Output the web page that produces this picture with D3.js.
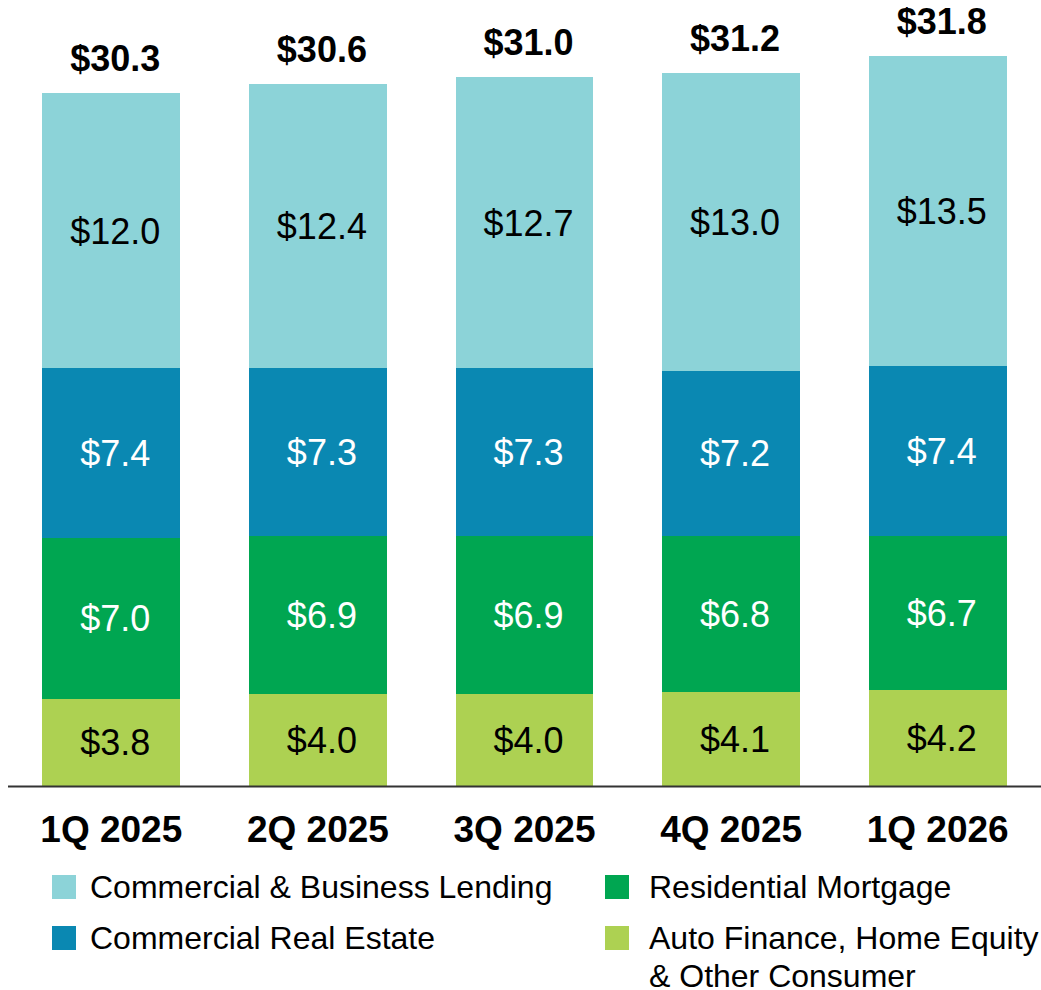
<!DOCTYPE html>
<html lang="en">
<head>
<meta charset="utf-8">
<title>Loans by Category</title>
<script src="https://cdn.jsdelivr.net/npm/d3@7"></script>
<style>
  body { margin: 0; background: #fff; }
  svg { font-family: "Liberation Sans", Arial, Helvetica, sans-serif; display: block; }
  .bar { shape-rendering: crispEdges; }
  .value { font-size: 36px; }
  .total { font-size: 36px; font-weight: bold; fill: #000; }
  .axis text { font-size: 37px; font-weight: bold; fill: #000; }
  .legend text { font-size: 32px; fill: #000; }
</style>
</head>
<body>
<div id="chart"></div>
<script>

// data
const quarters = ["1Q 2025", "2Q 2025", "3Q 2025", "4Q 2025", "1Q 2026"];
const autoOther   = [3.8, 4.0, 4.0, 4.1, 4.2];
const residential = [7.0, 6.9, 6.9, 6.8, 6.7];
const commRE      = [7.4, 7.3, 7.3, 7.2, 7.4];
const commBiz     = [12.0, 12.4, 12.7, 13.0, 13.5];
const totals      = [30.3, 30.6, 31.0, 31.2, 31.8];

const seriesKeys = ["auto", "res", "cre", "cbl"];

const WIDTH = 1041, HEIGHT = 990;
const colors = { auto: "#add152", res: "#00a651", cre: "#0a88b2", cbl: "#8cd3d8" };
const textColors = { auto: "#000", res: "#fff", cre: "#fff", cbl: "#000" };

const rows = quarters.map((q, i) => ({
  q: q, auto: autoOther[i], res: residential[i], cre: commRE[i], cbl: commBiz[i], total: totals[i]
}));

const svg = d3.select("#chart").append("svg")
  .attr("width", WIDTH)
  .attr("height", HEIGHT)
  .attr("viewBox", [0, 0, WIDTH, HEIGHT]);

const x = d3.scaleBand()
  .domain(quarters)
  .range([8, 1041])
  .paddingInner(0.333)
  .paddingOuter(0.1665);

const y = d3.scaleLinear()
  .domain([0, 34])
  .range([786, 6]);

const stacked = d3.stack().keys(seriesKeys)(rows);

// stacked bars
const layer = svg.selectAll("g.layer")
  .data(stacked)
  .enter().append("g")
  .attr("class", "layer");

layer.selectAll("rect")
  .data(d => d.map(v => Object.assign(v, { key: d.key })))
  .enter().append("rect")
  .attr("class", "bar")
  .attr("x", d => x(d.data.q))
  .attr("width", x.bandwidth())
  .attr("y", d => y(d[1]))
  .attr("height", d => y(d[0]) - y(d[1]))
  .attr("fill", d => colors[d.key]);

// segment labels
layer.selectAll("text")
  .data(d => d)
  .enter().append("text")
  .attr("class", "value")
  .attr("x", d => x(d.data.q) + x.bandwidth() / 2 + 4)
  .attr("y", d => (y(d[0]) + y(d[1])) / 2)
  .attr("dy", "0.36em")
  .attr("text-anchor", "middle")
  .attr("fill", d => textColors[d.key])
  .text(d => "$" + d3.format(".1f")(d[1] - d[0]));

// totals on top
const topLayer = stacked[stacked.length - 1];
svg.selectAll("text.total")
  .data(topLayer)
  .enter().append("text")
  .attr("class", "total")
  .attr("x", d => x(d.data.q) + x.bandwidth() / 2 + 4)
  .attr("y", d => y(d[1]) - 22)
  .attr("text-anchor", "middle")
  .text(d => "$" + d3.format(".1f")(d.data.total));

// x axis
const axis = svg.append("g")
  .attr("class", "axis")
  .attr("transform", "translate(0," + y(0) + ")")
  .call(d3.axisBottom(x).tickSize(0).tickPadding(0));
axis.select(".domain")
  .attr("d", "M8,0.5H1041")
  .attr("stroke", "#333")
  .attr("stroke-width", 2);
axis.selectAll(".tick text")
  .attr("y", 56)
  .attr("dy", 0);

// legend
const legendItems = [
  { key: "cbl", lines: ["Commercial & Business Lending"], x: 52, y: 875, tx: 38 },
  { key: "res", lines: ["Residential Mortgage"], x: 605, y: 875, tx: 44 },
  { key: "cre", lines: ["Commercial Real Estate"], x: 52, y: 926, tx: 38 },
  { key: "auto", lines: ["Auto Finance, Home Equity", "& Other Consumer"], x: 605, y: 926, tx: 44 }
];

const legend = svg.append("g").attr("class", "legend")
  .selectAll("g")
  .data(legendItems)
  .enter().append("g")
  .attr("transform", d => "translate(" + d.x + "," + d.y + ")");

legend.append("rect")
  .attr("width", 24)
  .attr("height", 24)
  .attr("fill", d => colors[d.key]);

legend.append("text")
  .attr("y", 23)
  .each(function(d) {
    d3.select(this).selectAll("tspan")
      .data(d.lines)
      .enter().append("tspan")
      .attr("x", d.tx)
      .attr("dy", (t, i) => i === 0 ? 0 : 38)
      .text(t => t);
  });

</script>
</body>
</html>
